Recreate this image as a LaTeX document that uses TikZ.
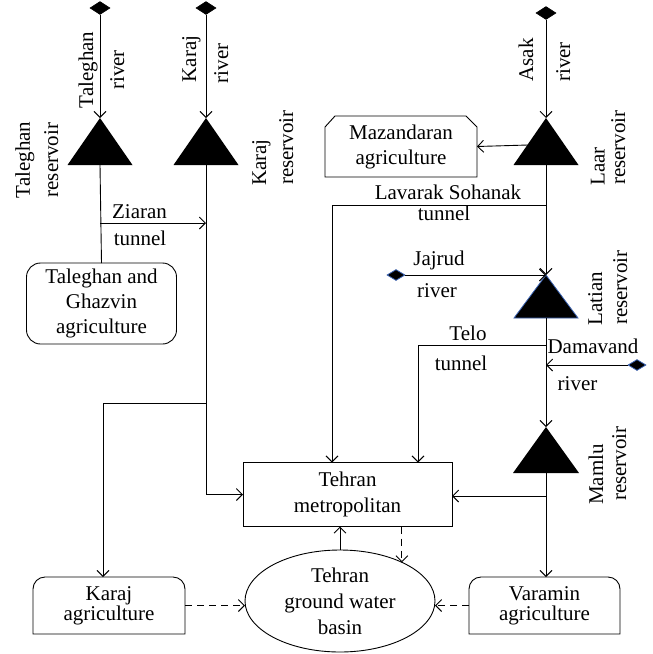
\documentclass[tikz,border=0pt]{standalone}
\usepackage{fontspec}
\setmainfont{Liberation Serif}
\usetikzlibrary{arrows.meta,shapes.geometric}
\definecolor{edgeblue}{RGB}{60,100,180}
\begin{document}
\begin{tikzpicture}[x=1pt,y=1pt,line width=0.9pt,
  arr/.style={-{Straight Barb[length=6pt,width=12pt]}},
  dasharr/.style={arr,dash pattern=on 7pt off 5pt},
  lab/.style={font=\fontsize{21}{25}\selectfont,inner sep=0pt,text height=14pt,text depth=5pt},
  rlab/.style={lab,rotate=90},
  src/.style={diamond,fill=black,draw=black,line width=0.6pt,minimum width=20pt,minimum height=13pt,inner sep=0pt},
  bsrc/.style={src,draw=edgeblue,line width=0.8pt,minimum width=18pt,minimum height=11pt},
  boxtext/.style={align=center,inner sep=0pt,outer sep=0pt,font=\fontsize{21}{25}\selectfont},
]
\useasboundingbox (0,0) rectangle (653,-654);

% ---------- sources and reservoirs ----------
\node[src] (dTal) at (100,-8) {};
\coordinate (talTop) at (100,-118);
\coordinate (talBot) at (100,-165);
\fill (talTop) -- ++(32.5,-47) -- ++(-65,0) -- cycle;

\node[src] (dKar) at (206,-8) {};
\coordinate (karTop) at (206,-118);
\coordinate (karBot) at (206,-165);
\fill (karTop) -- ++(32.5,-47) -- ++(-65,0) -- cycle;

\node[src] (dAsak) at (546,-13) {};
\coordinate (laarTop) at (546,-118);
\coordinate (laarBot) at (546,-165);
\coordinate (laarL) at (528,-145);
\fill (laarTop) -- ++(32.5,-47) -- ++(-65,0) -- cycle;

\node[bsrc] (dJaj) at (396,-275) {};
\coordinate (latTop) at (546,-275);
\coordinate (latBot) at (546,-318);
\filldraw[fill=black,draw=edgeblue,line width=0.8pt] (latTop) -- ++(32,-43) -- ++(-64,0) -- cycle;

\node[bsrc] (dDam) at (637,-365) {};
\coordinate (damEnd) at (546,-365);

\coordinate (mamTop) at (546,-427);
\coordinate (mamBot) at (546,-473);
\fill (mamTop) -- ++(33,-46) -- ++(-66,0) -- cycle;

% ---------- boxes ----------
\node[boxtext,minimum width=152pt,minimum height=61pt] (maz) at (401,-146.5) {Mazandaran\\agriculture};
\draw ([yshift=-11pt]maz.north west) -- ([xshift=10pt]maz.north west) -- ([xshift=-11pt]maz.north east) -- ([yshift=-11pt]maz.north east) -- (maz.south east) -- (maz.south west) -- cycle;

\node[boxtext,draw,rounded corners=14pt,minimum width=150pt,minimum height=81pt] (talAg) at (101.5,-303.5) {Taleghan and\\Ghazvin\\agriculture};

\node[boxtext,draw,minimum width=209pt,minimum height=64pt,font=\fontsize{21}{26}\selectfont] (teh) at (347.5,-494.5) {Tehran\\metropolitan};

\node[boxtext,draw,ellipse,minimum width=190pt,minimum height=102pt,font=\fontsize{21}{26}\selectfont] (gw) at (340,-601) {Tehran\\ground water\\basin};

\node[boxtext,minimum width=152pt,minimum height=57pt,font=\fontsize{21}{20}\selectfont] (karAg) at (109,-605.5) {Karaj\\agriculture};
\draw (karAg.south west) -- ([yshift=-12pt]karAg.north west) arc[start angle=180,end angle=90,radius=12pt] -- ([xshift=-12pt]karAg.north east) arc[start angle=90,end angle=0,radius=12pt] -- (karAg.south east) -- cycle;

\node[boxtext,minimum width=151pt,minimum height=57pt,font=\fontsize{21}{20}\selectfont] (varAg) at (544.5,-605.5) {Varamin\\agriculture};
\draw (varAg.south west) -- ([yshift=-12pt]varAg.north west) arc[start angle=180,end angle=90,radius=12pt] -- ([xshift=-12pt]varAg.north east) arc[start angle=90,end angle=0,radius=12pt] -- (varAg.south east) -- cycle;

% ---------- connectors ----------
\draw[arr] (dTal) -- (talTop);
\draw (talBot) -- (talAg.north);
\coordinate (ziaL) at (100,-223);
\coordinate (ziaR) at (206,-223);
\draw[arr] (ziaL) -- (ziaR);

\draw[arr] (dKar) -- (karTop);
\draw[arr] (karBot) |- (teh.west);
\coordinate (karJ) at (206,-403);
\draw[arr] (karJ) -| ([xshift=-6pt]karAg.north);

\draw[arr] (dAsak) -- (laarTop);
\draw[arr] (laarL) -- (maz.east);
\draw[arr] (laarBot) -- (latTop);
\coordinate (lavR) at (546,-205);
\coordinate (lavL) at (332,-205);
\draw[arr] (lavR) -- (lavL) -- (lavL |- teh.north);

\draw[arr] (dJaj) -- (latTop);
\draw[arr] (latBot) -- (mamTop);
\coordinate (telR) at (546,-345);
\coordinate (telL) at (418,-345);
\draw[arr] (telR) -- (telL) -- (telL |- teh.north);
\draw[arr] (dDam) -- (damEnd);

\draw[arr] (mamBot) -- (mamBot |- varAg.north);
\coordinate (mamJ) at (546,-496);
\draw[arr] (mamJ) -- (mamJ -| teh.east);

\draw[dasharr] (karAg.east) -- (karAg.east -| gw.west);
\draw[dasharr] (varAg.west) -- (varAg.west -| gw.east);
\draw[arr] (gw.north) -- (gw.north |- teh.south);
\draw[dasharr] (gw.32 |- teh.south) -- (gw.32);

% ---------- labels ----------
\node[rlab] (lTal1) at (88.5,-70) {Taleghan};
\node[rlab] (lTal2) at (119.5,-70) {river};
\node[rlab] (lKar1) at (191.5,-59) {Karaj};
\node[rlab] (lKar2) at (223.5,-63.5) {river};
\node[rlab] (lAsak1) at (528.5,-60) {Asak};
\node[rlab] (lAsak2) at (565.5,-62) {river};
\node[rlab] (lTr1) at (25.5,-160) {Taleghan};
\node[rlab] (lTr2) at (53.5,-160) {reservoir};
\node[rlab] (lKr1) at (261.5,-162.5) {Karaj};
\node[rlab] (lKr2) at (288.5,-147.5) {reservoir};
\node[rlab] (lLr1) at (600,-166.5) {Laar};
\node[rlab] (lLr2) at (620.5,-147.5) {reservoir};
\node[rlab] (lLt1) at (597.5,-298.5) {Latian};
\node[rlab] (lLt2) at (622.5,-287.5) {reservoir};
\node[rlab] (lMr1) at (598.5,-474.5) {Mamlu};
\node[rlab] (lMr2) at (621.5,-463.5) {reservoir};

\node[lab] (lZ1) at (139.5,-213.5) {Ziaran};
\node[lab] (lZ2) at (140,-240.5) {tunnel};
\node[lab] (lLv1) at (448,-194.5) {Lavarak Sohanak};
\node[lab] (lLv2) at (444,-215.5) {tunnel};
\node[lab] (lJ1) at (439,-260.5) {Jajrud};
\node[lab] (lJ2) at (437,-292.5) {river};
\node[lab] (lT1) at (468,-335.5) {Telo};
\node[lab] (lT2) at (461,-365.5) {tunnel};
\node[lab] (lD1) at (593,-348.5) {Damavand};
\node[lab] (lD2) at (577.5,-385.5) {river};
\end{tikzpicture}
\end{document}
